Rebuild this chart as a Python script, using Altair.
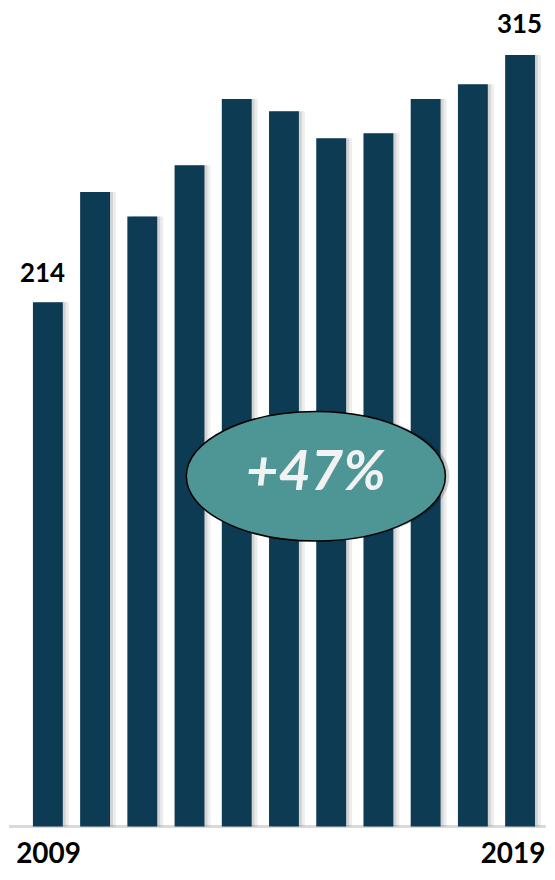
import altair as alt
import pandas as pd

years = ["2009", "2010", "2011", "2012", "2013", "2014", "2015", "2016", "2017", "2018", "2019"]
values = [214, 259, 249, 270, 297, 292, 281, 283, 297, 303, 315]
end_labels = ["214", "", "", "", "", "", "", "", "", "", "315"]
year_labels = ["2009", "", "", "", "", "", "", "", "", "", "2019"]
badge_text = "+47%"
badge_year = "2014"
badge_value = 143

df = pd.DataFrame({"year": years, "value": values, "label": end_labels, "ylabel": year_labels})

W = 539
H = 820


def xenc(shift=0):
    return alt.X("year:N", axis=None,
                 scale=alt.Scale(domain=years, paddingInner=0.367, paddingOuter=0.169,
                                 range=[16 + shift, 536 + shift]))


def yenc(field):
    return alt.Y(field, axis=None, scale=alt.Scale(domain=[0, 333.5], nice=False))


base = alt.Chart(df).transform_calculate(zero="0", bv=str(badge_value))

shadow1 = base.mark_bar(color="#000000", opacity=0.10).encode(x=xenc(3), y=yenc("value:Q"))
shadow2 = base.mark_bar(color="#000000", opacity=0.07).encode(x=xenc(6), y=yenc("value:Q"))
baseline = base.mark_rule(color="#D9D9D9", strokeWidth=2).encode(y=yenc("zero:Q"))
bars = base.mark_bar(color="#0E3B54").encode(x=xenc(0), y=yenc("value:Q"))

labels_first = base.transform_filter(alt.datum.year == years[0]).mark_text(
    font="Lato", fontWeight="bold", fontSize=26, color="#000000", dy=-28, dx=-6, baseline="middle"
).encode(x=xenc(0), y=yenc("value:Q"), text="label:N")
labels_last = base.transform_filter(alt.datum.year == years[-1]).mark_text(
    font="Lato", fontWeight="bold", fontSize=26, color="#000000", dy=-30, baseline="middle"
).encode(x=xenc(0), y=yenc("value:Q"), text="label:N")

year_first = base.transform_filter(alt.datum.year == years[0]).mark_text(
    font="Lato", fontWeight="bold", fontSize=28, color="#000000", dy=43, baseline="bottom"
).encode(x=xenc(0), y=yenc("zero:Q"), text="ylabel:N")
year_last = base.transform_filter(alt.datum.year == years[-1]).mark_text(
    font="Lato", fontWeight="bold", fontSize=28, color="#000000", dy=43, dx=26,
    align="right", baseline="bottom"
).encode(x=xenc(0), y=yenc("zero:Q"), text="ylabel:N")

ellipse_path = ("M -1 0 C -1 -0.27614 -0.5523 -0.5 0 -0.5 C 0.5523 -0.5 1 -0.27614 1 0 "
                "C 1 0.27614 0.5523 0.5 0 0.5 C -0.5523 0.5 -1 0.27614 -1 0 Z")
bsel = base.transform_filter(alt.datum.year == badge_year)
badge_shadow = bsel.mark_point(
    shape=ellipse_path, size=67600, filled=True, color="#000000", opacity=0.18
).encode(x=xenc(36), y=yenc("bv:Q"))
badge_shape = bsel.mark_point(
    shape=ellipse_path, size=67600, filled=True, fill="#4E9696", stroke="#000000", strokeWidth=1.5,
    opacity=1
).encode(x=xenc(32), y=yenc("bv:Q"))
badge_label = bsel.mark_text(
    text=badge_text, font="Lato", fontWeight="bold", fontStyle="italic", fontSize=56,
    color="#F2F2F2", dy=-3, baseline="middle"
).encode(x=xenc(32), y=yenc("bv:Q"))

chart = alt.layer(
    baseline, shadow2, shadow1, bars, labels_first, labels_last, year_first, year_last,
    badge_shadow, badge_shape, badge_label
).resolve_scale(x="independent").properties(
    width=W, height=H, padding=0
).configure_view(stroke=None)

chart.save("out.html", embed_options={"renderer": "svg", "actions": False})
